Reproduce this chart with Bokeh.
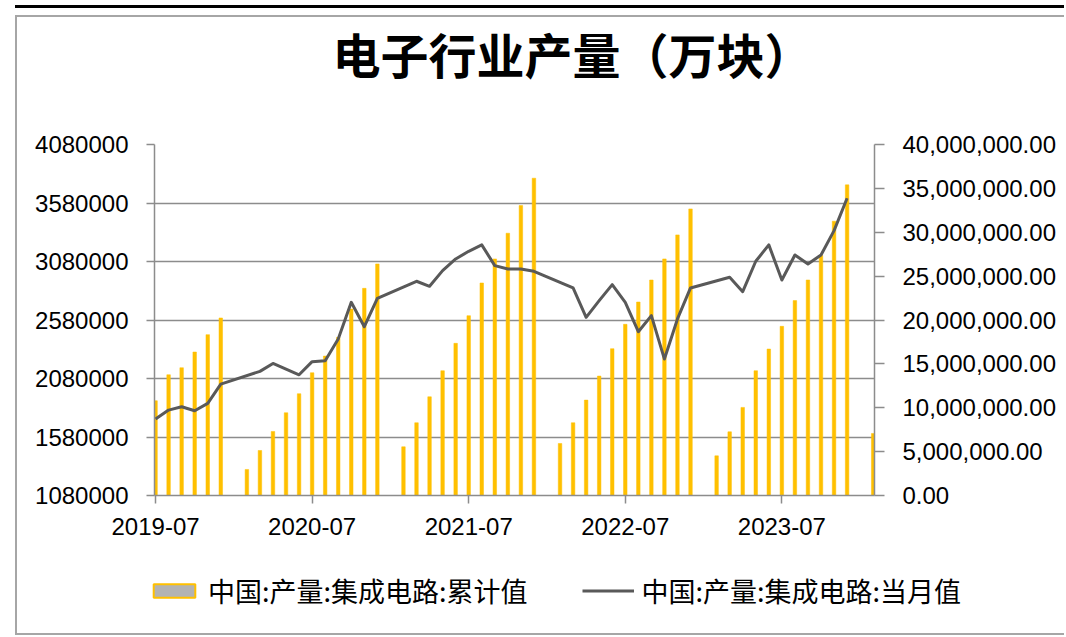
import pandas as pd
from bokeh.plotting import figure
from bokeh.layouts import column
from bokeh.models import (Range1d, LinearAxis, FixedTicker, NumeralTickFormatter,
                          Legend, LegendItem, Title)
from bokeh.embed import file_html
from bokeh.resources import INLINE

TITLE = "电子行业产量（万块）"

bar_months = ["2019-07", "2019-08", "2019-09", "2019-10", "2019-11", "2019-12",
              "2020-02", "2020-03", "2020-04", "2020-05", "2020-06", "2020-07",
              "2020-08", "2020-09", "2020-10", "2020-11", "2020-12",
              "2021-02", "2021-03", "2021-04", "2021-05", "2021-06", "2021-07",
              "2021-08", "2021-09", "2021-10", "2021-11", "2021-12",
              "2022-02", "2022-03", "2022-04", "2022-05", "2022-06", "2022-07",
              "2022-08", "2022-09", "2022-10", "2022-11", "2022-12",
              "2023-02", "2023-03", "2023-04", "2023-05", "2023-06", "2023-07",
              "2023-08", "2023-09", "2023-10", "2023-11", "2023-12",
              "2024-02"]
bar_values = [10800000, 13760000, 14560000, 16350000, 18330000, 20230000,
              2970000, 5130000, 7300000, 9430000, 11600000, 13990000,
              15890000, 18020000, 21250000, 23610000, 26390000,
              5550000, 8290000, 11250000, 14220000, 17340000, 20490000,
              24220000, 26960000, 29890000, 33040000, 36160000,
              5930000, 8290000, 10870000, 13610000, 16730000, 19510000,
              22050000, 24560000, 26960000, 29700000, 32660000,
              4520000, 7260000, 10040000, 14220000, 16690000, 19280000,
              22210000, 24560000, 27340000, 31260000, 35400000,
              7070000]

line_months = ["2019-07", "2019-08", "2019-09", "2019-10", "2019-11", "2019-12",
               "2020-03", "2020-04", "2020-05", "2020-06", "2020-07", "2020-08",
               "2020-09", "2020-10", "2020-11", "2020-12",
               "2021-03", "2021-04", "2021-05", "2021-06", "2021-07", "2021-08",
               "2021-09", "2021-10", "2021-11", "2021-12",
               "2022-03", "2022-04", "2022-05", "2022-06", "2022-07", "2022-08",
               "2022-09", "2022-10", "2022-11", "2022-12",
               "2023-03", "2023-04", "2023-05", "2023-06", "2023-07", "2023-08",
               "2023-09", "2023-10", "2023-11", "2023-12"]
line_values = [1733000, 1810000, 1839000, 1804000, 1867000, 2032000,
               2141000, 2209000, 2161000, 2112000, 2224000, 2232000,
               2417000, 2731000, 2523000, 2765000,
               2911000, 2868000, 3002000, 3102000, 3167000, 3222000,
               3045000, 3016000, 3016000, 2996000,
               2854000, 2603000, 2745000, 2882000, 2731000, 2480000,
               2617000, 2246000, 2589000, 2854000,
               2945000, 2822000, 3082000, 3222000, 2922000, 3136000,
               3059000, 3136000, 3344000, 3621000]

x_tick_labels = ["2019-07", "2020-07", "2021-07", "2022-07", "2023-07"]
left_ticks = [1080000, 1580000, 2080000, 2580000, 3080000, 3580000, 4080000]
right_ticks = [0, 5000000, 10000000, 15000000, 20000000, 25000000,
               30000000, 35000000, 40000000]
legend_labels = ["中国:产量:集成电路:累计值", "中国:产量:集成电路:当月值"]

BAR_COLOR = "#FFC000"
LINE_COLOR = "#595959"
GRID_COLOR = "#8c8c8c"
BOX_COLOR = "#a6a6a6"
SWATCH_COLOR = "#b3b3b3"
NUM_FONT = "Liberation Sans"
CJK_FONT = "Noto Sans CJK SC"

W = 1064
H_MAIN = 560
H_LEG = 75


def midx(s):
    y, m = map(int, s.split("-"))
    return (y - 2019) * 12 + (m - 7)


bx = [midx(s) for s in bar_months]
lx = [midx(s) for s in line_months]


def solid(c):
    return "linear-gradient(%s, %s)" % (c, c)


main_css = ", ".join([
    solid("#000000") + " 15px 5px / 100% 3px no-repeat",
    solid(BOX_COLOR) + " 15px 15px / 100% 2px no-repeat",
    solid(BOX_COLOR) + " 15px 15px / 2px %dpx no-repeat" % (H_MAIN - 15),
])
leg_css = ", ".join([
    solid(BOX_COLOR) + " 15px 0px / 2px %dpx no-repeat" % H_LEG,
    solid(BOX_COLOR) + " 15px %dpx / 100%% 2px no-repeat" % (H_LEG - 2),
])

# ---------------- main chart ----------------
p = figure(width=W, height=H_MAIN,
           x_range=Range1d(-0.08, 55.1),
           y_range=Range1d(left_ticks[0], left_ticks[-1]),
           output_backend="svg", toolbar_location=None,
           min_border_left=154, min_border_right=W - 874,
           min_border_top=144, min_border_bottom=H_MAIN - 144 - 351,
           styles={"background": main_css})
p.extra_y_ranges = {"cum": Range1d(right_ticks[0], right_ticks[-1])}
p.outline_line_color = None
p.background_fill_color = "white"
p.border_fill_alpha = 0

bars = p.vbar(x=bx, top=bar_values, bottom=0, width=0.27,
              y_range_name="cum", fill_color=BAR_COLOR, line_color=BAR_COLOR,
              line_width=0.5)
line_r = p.line(lx, line_values, line_color=LINE_COLOR, line_width=3,
                line_join="round")


def style_axis(ax, tick_out):
    ax.axis_line_color = GRID_COLOR
    ax.axis_line_width = 1.5
    ax.major_tick_line_color = GRID_COLOR
    ax.major_tick_line_width = 1.5
    ax.major_tick_in = 0
    ax.major_tick_out = tick_out
    ax.minor_tick_line_color = None
    ax.major_label_text_font = NUM_FONT
    ax.major_label_text_font_size = "24px"
    ax.major_label_text_color = "black"


xa = p.xaxis[0]
xa.ticker = FixedTicker(ticks=[midx(s) for s in x_tick_labels])
xa.major_label_overrides = {midx(s): s for s in x_tick_labels}
style_axis(xa, 8)
xa.major_label_standoff = 14

ya = p.yaxis[0]
ya.ticker = FixedTicker(ticks=left_ticks)
ya.formatter = NumeralTickFormatter(format="0")
style_axis(ya, 8)
ya.major_label_standoff = 18

ra = LinearAxis(y_range_name="cum", ticker=FixedTicker(ticks=right_ticks),
                formatter=NumeralTickFormatter(format="0,0.00"))
style_axis(ra, 10)
ra.major_label_standoff = 18
p.add_layout(ra, "right")

p.xgrid.visible = False
p.ygrid.ticker = FixedTicker(ticks=left_ticks)
p.ygrid.grid_line_color = GRID_COLOR
p.ygrid.grid_line_width = 1.3

# spacer (added first -> nearest the plot area), then the real title above it
spacer = Title(text=".", text_font_size="1px", text_color="white",
               standoff=54)
p.add_layout(spacer, "above")
main_title = Title(text=TITLE, text_font=CJK_FONT, text_font_size="48px",
                   text_font_style="bold", text_color="black",
                   align="left", offset=178, standoff=0)
p.add_layout(main_title, "above")

# ---------------- legend strip ----------------
lf = figure(width=W, height=H_LEG, x_range=Range1d(0, 1), y_range=Range1d(0, 1),
            output_backend="svg", toolbar_location=None,
            x_axis_location=None, y_axis_location=None,
            min_border=0, styles={"background": leg_css})
lf.grid.visible = False
lf.outline_line_color = None
lf.background_fill_alpha = 0
lf.border_fill_alpha = 0

if "frame_align" in p.properties():
    p.frame_align = False
    lf.frame_align = False

# legend proxies: same data, far outside this strip's 0..1 ranges
bar_proxy = lf.rect(x=bx, y=bar_values, width=0.27, height=1,
                    fill_color=SWATCH_COLOR, line_color=BAR_COLOR, line_width=2)
line_proxy = lf.line(lx, line_values, line_color=LINE_COLOR, line_width=3)

legend = Legend(items=[LegendItem(label=legend_labels[0], renderers=[bar_proxy]),
                       LegendItem(label=legend_labels[1], renderers=[line_proxy])],
                orientation="horizontal", location=(148, 25),
                glyph_width=52, glyph_height=17, label_standoff=8,
                spacing=54, padding=0, margin=0,
                label_text_font=CJK_FONT, label_text_font_size="27px",
                label_text_color="black",
                border_line_alpha=0, background_fill_alpha=0)
lf.add_layout(legend)

layout = column(p, lf, spacing=0)

open("out.html", "w").write(file_html(layout, INLINE))
